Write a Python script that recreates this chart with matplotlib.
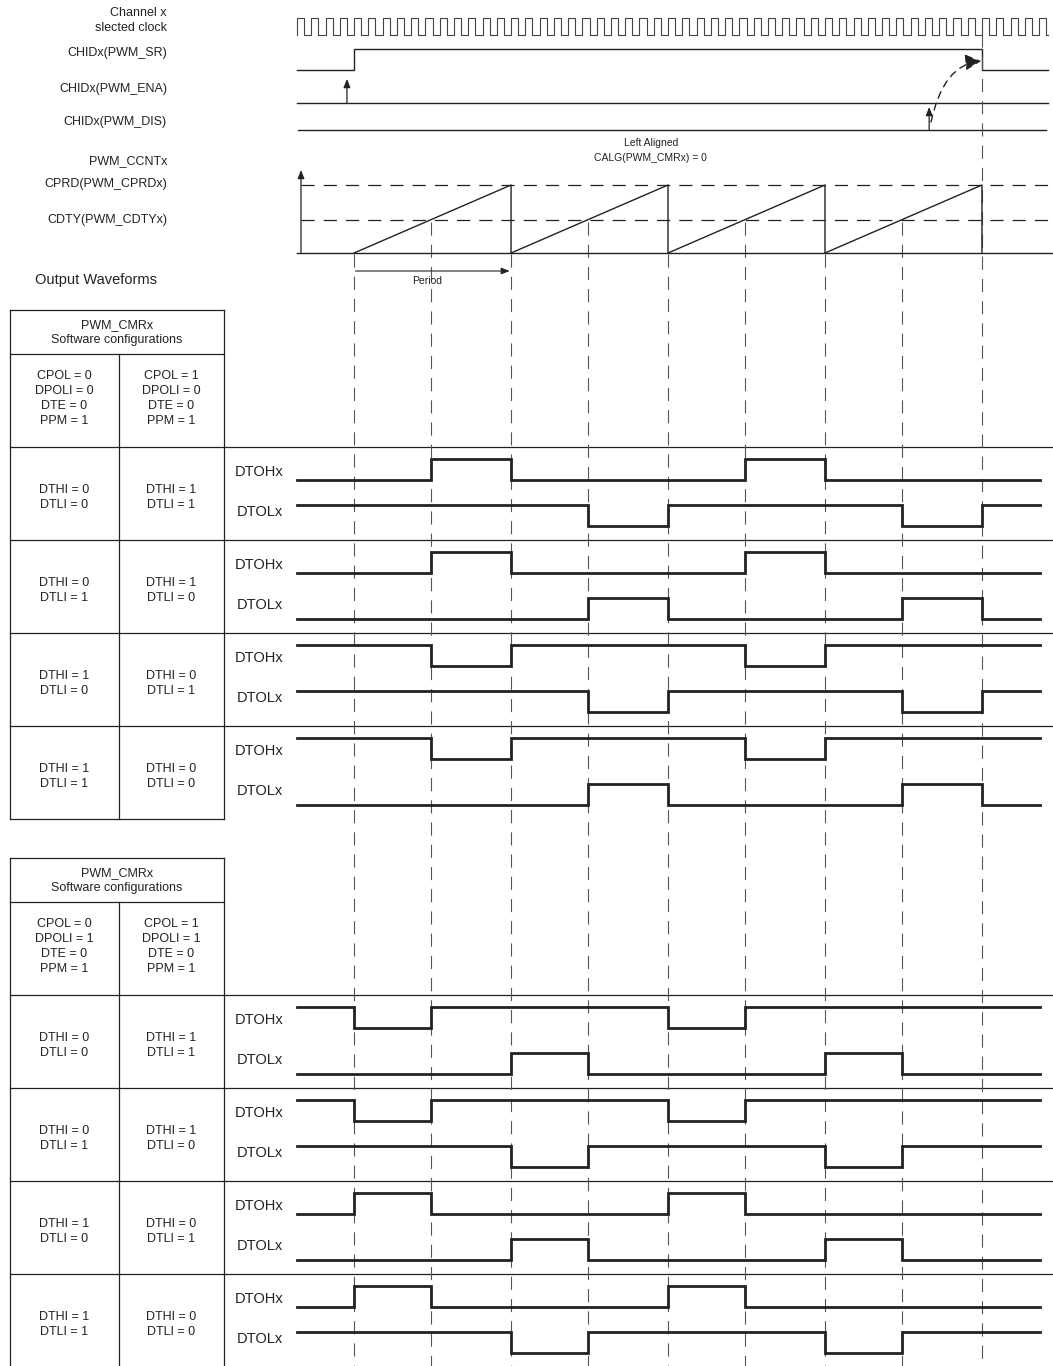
import numpy as np
import matplotlib.pyplot as plt
from matplotlib.patches import FancyArrowPatch

plt.rcParams['font.family'] = ['Liberation Sans', 'DejaVu Sans']
plt.rcParams['lines.scale_dashes'] = False

W, H = 1053, 1366

# timing, in clock cycles
clock_pulses = 53
clock_end = 52.6
ena_time = 3.5
start_time = 4
period = 11
cdty = 5.4
n_periods = 4
dis_time = 44.3
wave_end = 52.1

signal_labels = ["CHIDx(PWM_SR)", "CHIDx(PWM_ENA)", "CHIDx(PWM_DIS)",
                 "PWM_CCNTx", "CPRD(PWM_CPRDx)", "CDTY(PWM_CDTYx)"]

top_cfg = (["CPOL = 0", "DPOLI = 0", "DTE = 0", "PPM = 1"],
           ["CPOL = 1", "DPOLI = 0", "DTE = 0", "PPM = 1"])
bot_cfg = (["CPOL = 0", "DPOLI = 1", "DTE = 0", "PPM = 1"],
           ["CPOL = 1", "DPOLI = 1", "DTE = 0", "PPM = 1"])
dt_left = [("DTHI = 0", "DTLI = 0"), ("DTHI = 0", "DTLI = 1"),
           ("DTHI = 1", "DTLI = 0"), ("DTHI = 1", "DTLI = 1")]
dt_right = [("DTHI = 1", "DTLI = 1"), ("DTHI = 1", "DTLI = 0"),
            ("DTHI = 0", "DTLI = 1"), ("DTHI = 0", "DTLI = 0")]

# level of each segment between output edges (1 = high)
top_dtoh = ["0010001000", "0010001000", "1101110111", "1101110111"]
top_dtol = ["1111011101", "0000100010", "1111011101", "0000100010"]
bot_dtoh = ["1011101111", "1011101111", "0100010000", "0100010000"]
bot_dtol = ["0001000100", "1110111011", "0001000100", "1110111011"]

# layout (pixels)
x0_px, clk_px = 297, 14.27
ink = '#222222'

fig = plt.figure(figsize=(W / 100, H / 100), dpi=100)
ax = fig.add_axes([0, 0, 1, 1])
ax.set_xlim(0, W)
ax.set_ylim(H, 0)
ax.axis('off')
tax = fig.add_axes([0, 0, 1, 1])
txlim = (-x0_px / clk_px, (W - x0_px) / clk_px)
tax.set_xlim(*txlim)
tax.set_ylim(H, 0)
tax.axis('off')

# left labels
ax.text(167, 13, "Channel x", ha='right', va='center', fontsize=9, color=ink)
ax.text(167, 28, "slected clock", ha='right', va='center', fontsize=9, color=ink)
for lab, y in zip(signal_labels, [53, 89, 122, 161, 184, 220]):
    ax.text(167, y, lab, ha='right', va='center', fontsize=9, color=ink)
ax.text(35, 280, "Output Waveforms", ha='left', va='center', fontsize=10.5, color=ink)

# clock
cx, cy = [0], [35]
for k in range(clock_pulses):
    cx += [k, k, k + 0.5, k + 0.5]
    cy += [35, 17.5, 17.5, 35]
cx.append(clock_end)
cy.append(35)
tax.plot(cx, cy, color='#444444', lw=0.8)

# SR / ENA / DIS
stop_time = start_time + n_periods * period
tax.plot([0, start_time, start_time, stop_time, stop_time, clock_end],
         [70, 70, 49, 49, 70, 70], color=ink, lw=1)
tax.plot([0, clock_end], [103, 103], color=ink, lw=1)
tax.plot([0.07, clock_end - 0.1], [130, 130], color=ink, lw=1)
arr = dict(arrowstyle='-|>,head_length=0.5,head_width=0.2', lw=0.9, color=ink,
           shrinkA=0, shrinkB=0, mutation_scale=10)
tax.annotate('', xy=(ena_time, 79), xytext=(ena_time, 103), arrowprops=arr)
tax.annotate('', xy=(dis_time, 107), xytext=(dis_time, 130), arrowprops=arr)
curve = FancyArrowPatch((dis_time + 0.13, 122), (stop_time - 0.05, 61),
                        connectionstyle="angle3,angleA=78,angleB=5",
                        arrowstyle='-|>,head_length=0.7,head_width=0.35',
                        mutation_scale=14, color=ink, lw=1,
                        linestyle=(0, (5, 4)), shrinkA=0, shrinkB=0)
tax.add_patch(curve)

tax.text(24.8, 143, "Left Aligned", ha='center', va='center', fontsize=7.5, color=ink)
tax.text(24.8, 158, "CALG(PWM_CMRx) = 0", ha='center', va='center', fontsize=7.5, color=ink)

# counter
cnt_top = period * 83 / 68
cax = fig.add_axes([0, 1 - 253 / H, 1, 83 / H])
cax.set_xlim(*txlim)
cax.set_ylim(0, cnt_top)
cax.axis('off')
cax.plot([0, txlim[1]], [0, 0], color=ink, lw=1, clip_on=False)
cax.annotate('', xy=(0.28, cnt_top), xytext=(0.28, 0), arrowprops=arr)
dash = (0, (9.5, 6.5))
cax.plot([0.28, txlim[1]], [period, period], color=ink, lw=0.9, linestyle=dash, clip_on=False)
cax.plot([0.28, txlim[1]], [cdty, cdty], color=ink, lw=0.9, linestyle=dash, clip_on=False)
for i in range(n_periods):
    s = start_time + i * period
    cax.plot([s, s + period, s + period], [0, period, 0], color=ink, lw=1, clip_on=False)

# period arrow
tax.annotate('', xy=(start_time + period - 0.1, 271), xytext=(start_time + 0.1, 271),
             arrowprops=dict(arrowstyle='-|>,head_length=0.5,head_width=0.2', lw=0.8,
                             color=ink, shrinkA=0, shrinkB=0, mutation_scale=10))
tax.text(start_time + 5.1, 281, "Period", ha='center', va='center', fontsize=7.5, color=ink)

# dashed guide lines
for i in range(n_periods):
    s = start_time + i * period
    tax.plot([s, s], [254, H], color='#555555', lw=0.8, linestyle=dash)
    tax.plot([s + cdty, s + cdty], [222, H], color='#555555', lw=0.8, linestyle=dash)
tax.plot([stop_time, stop_time], [34, H], color='#555555', lw=0.8, linestyle=dash)

edges = []
for i in range(n_periods):
    edges += [start_time + i * period, start_time + i * period + cdty]
edges.append(stop_time)


def step_xy(levels, y_hi, y_lo):
    b = [0] + edges + [wave_end]
    xs, ys = [], []
    for i, lv in enumerate(levels):
        y = y_hi if lv == '1' else y_lo
        xs += [b[i], b[i + 1]]
        ys += [y, y]
    return xs, ys


def draw_table(top, cfg, dtoh, dtol):
    bottom = top + 137 + 4 * 93
    lw = 0.9
    ax.plot([10, 224], [top, top], color=ink, lw=lw)
    ax.plot([10, 224], [top + 44, top + 44], color=ink, lw=lw)
    for i in range(4):
        r = top + 137 + 93 * i
        ax.plot([10, W], [r, r], color=ink, lw=lw)
    ax.plot([10, 224], [bottom, bottom], color=ink, lw=lw)
    ax.plot([10, 10], [top, bottom], color=ink, lw=lw)
    ax.plot([224, 224], [top, bottom], color=ink, lw=lw)
    ax.plot([119, 119], [top + 44, bottom], color=ink, lw=lw)
    ax.text(117, top + 15, "PWM_CMRx", ha='center', va='center', fontsize=9, color=ink)
    ax.text(117, top + 30, "Software configurations", ha='center', va='center', fontsize=9, color=ink)
    for j in range(4):
        ax.text(64.5, top + 66 + 15 * j, cfg[0][j], ha='center', va='center', fontsize=9, color=ink)
        ax.text(171.5, top + 66 + 15 * j, cfg[1][j], ha='center', va='center', fontsize=9, color=ink)
    for i in range(4):
        r = top + 137 + 93 * i
        ax.text(64.5, r + 43, dt_left[i][0], ha='center', va='center', fontsize=9, color=ink)
        ax.text(64.5, r + 58, dt_left[i][1], ha='center', va='center', fontsize=9, color=ink)
        ax.text(171.5, r + 43, dt_right[i][0], ha='center', va='center', fontsize=9, color=ink)
        ax.text(171.5, r + 58, dt_right[i][1], ha='center', va='center', fontsize=9, color=ink)
        ax.text(283, r + 25, "DTOHx", ha='right', va='center', fontsize=10.5, color=ink)
        ax.text(283, r + 65, "DTOLx", ha='right', va='center', fontsize=10.5, color=ink)
        xs, ys = step_xy(dtoh[i], r + 12, r + 33)
        tax.plot(xs, ys, color=ink, lw=2.0, solid_joinstyle='miter')
        xs, ys = step_xy(dtol[i], r + 58, r + 79)
        tax.plot(xs, ys, color=ink, lw=2.0, solid_joinstyle='miter')


draw_table(310, top_cfg, top_dtoh, top_dtol)
draw_table(858, bot_cfg, bot_dtoh, bot_dtol)

fig.savefig('out.png', dpi=100)
